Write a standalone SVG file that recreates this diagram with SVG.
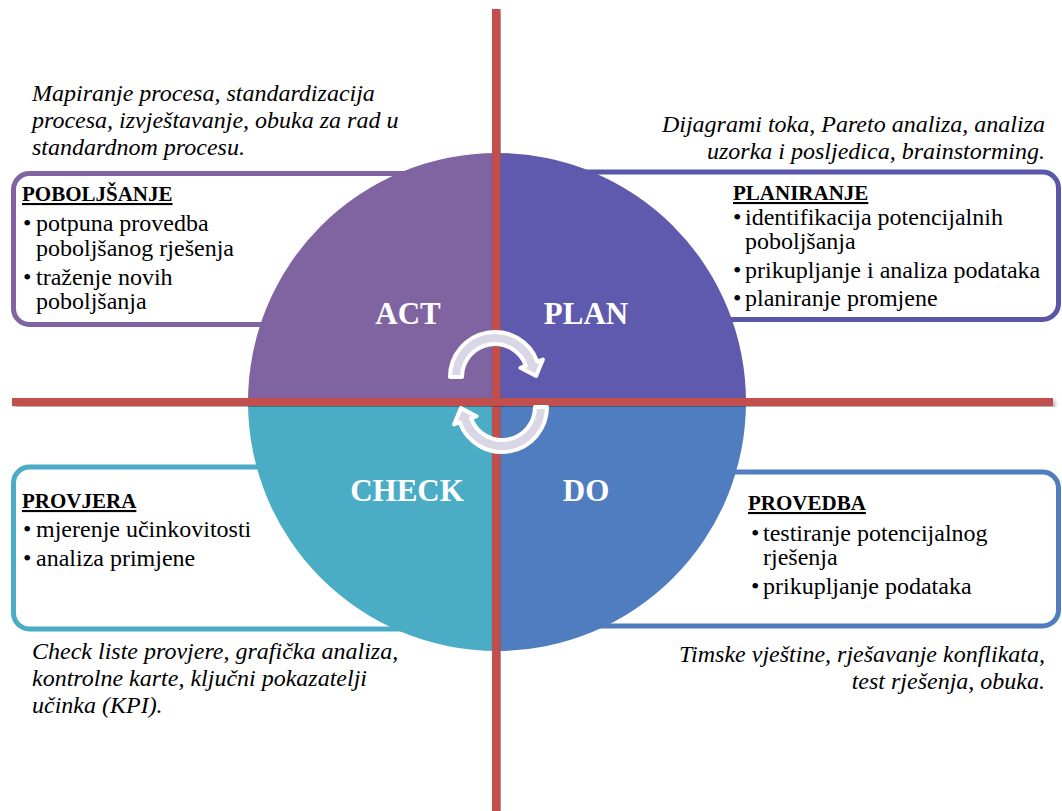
<svg xmlns="http://www.w3.org/2000/svg" width="1062" height="811" viewBox="0 0 1062 811">
<defs>
<filter id="sh" x="-5%" y="-5%" width="110%" height="110%">
<feDropShadow dx="2" dy="3" stdDeviation="2" flood-color="#000" flood-opacity="0.35"/>
</filter>
<style>
.box{fill:#fff;stroke-width:5}
.it{font-family:"Liberation Serif","Times New Roman",serif;font-style:italic;font-size:24px;fill:#000}
.hd{font-family:"Liberation Serif","Times New Roman",serif;font-weight:bold;font-size:21px;fill:#000;text-decoration:underline}
.bl{font-family:"Liberation Serif","Times New Roman",serif;font-size:24px;fill:#000}
.big{font-family:"Liberation Serif","Times New Roman",serif;font-weight:bold;font-size:31px;fill:#fff;text-anchor:middle}
.arw{fill:#d9d6e6;stroke:#fff;stroke-width:4;stroke-linejoin:round}
</style>
</defs>
<rect width="1062" height="811" fill="#fff"/>

<g id="box-act">
<rect class="box" x="13.5" y="173.5" width="470" height="151" rx="16" stroke="#8064a2"/>
</g>
<g id="box-plan">
<rect class="box" x="520" y="172" width="538.5" height="147.5" rx="16" stroke="#5b57a8"/>
</g>
<g id="box-check">
<rect class="box" x="13.5" y="467" width="470" height="162" rx="16" stroke="#4bacc6"/>
</g>
<g id="box-do">
<rect class="box" x="520" y="472" width="538.5" height="154" rx="16" stroke="#4f7dbf"/>
</g>

<g id="circle">
<path d="M497,402 L248,402 A249,249 0 0 1 497,153 Z" fill="#8064a2"/>
<path d="M497,402 L497,153 A249,249 0 0 1 746,402 Z" fill="#5f5aad"/>
<path d="M497,402 L746,402 A249,249 0 0 1 497,651 Z" fill="#4f7dbf"/>
<path d="M497,402 L497,651 A249,249 0 0 1 248,402 Z" fill="#4bacc6"/>
</g>

<g id="connectors">
<rect x="492" y="9" width="8.5" height="802" fill="#c0504d" filter="url(#sh)"/>
<rect x="12" y="398" width="1041" height="8" fill="#c0504d" filter="url(#sh)"/>
</g>

<g id="cycle-arrows">
<path class="arw" d="M450,377 A45,45 0 0 1 537.3,361.6 L542.9,359.6 L536.1,375.9 L520.4,367.8 L526,365.7 A33,33 0 0 0 462,377 Z"/>
<path class="arw" transform="rotate(180 498.5 392)" d="M450,377 A45,45 0 0 1 537.3,361.6 L542.9,359.6 L536.1,375.9 L520.4,367.8 L526,365.7 A33,33 0 0 0 462,377 Z"/>
</g>

<g id="labels">
<text class="big" x="408" y="324">ACT</text>
<text class="big" x="586" y="324">PLAN</text>
<text class="big" x="407" y="501">CHECK</text>
<text class="big" x="586" y="501">DO</text>
</g>

<g id="act-text">
<text class="it" x="32" y="101">Mapiranje procesa, standardizacija</text>
<text class="it" x="32" y="128">procesa, izvještavanje, obuka za rad u</text>
<text class="it" x="32" y="155">standardnom procesu.</text>
<text class="hd" x="22" y="201">POBOLJŠANJE</text>
<text class="bl" x="23" y="231">•</text><text class="bl" x="36" y="231">potpuna provedba</text>
<text class="bl" x="36" y="256">poboljšanog rješenja</text>
<text class="bl" x="23" y="285">•</text><text class="bl" x="36" y="285">traženje novih</text>
<text class="bl" x="36" y="309">poboljšanja</text>
</g>

<g id="plan-text">
<text class="it" x="1045" y="132" text-anchor="end">Dijagrami toka, Pareto analiza, analiza</text>
<text class="it" x="1045" y="159" text-anchor="end">uzorka i posljedica, brainstorming.</text>
<text class="hd" x="733" y="200">PLANIRANJE</text>
<text class="bl" x="733" y="225">•</text><text class="bl" x="745" y="225">identifikacija potencijalnih</text>
<text class="bl" x="745" y="249">poboljšanja</text>
<text class="bl" x="733" y="278">•</text><text class="bl" x="745" y="278">prikupljanje i analiza podataka</text>
<text class="bl" x="733" y="306">•</text><text class="bl" x="745" y="306">planiranje promjene</text>
</g>

<g id="check-text">
<text class="hd" x="22" y="508">PROVJERA</text>
<text class="bl" x="23" y="537">•</text><text class="bl" x="36" y="537">mjerenje učinkovitosti</text>
<text class="bl" x="23" y="566">•</text><text class="bl" x="36" y="566">analiza primjene</text>
<text class="it" x="32" y="659">Check liste provjere, grafička analiza,</text>
<text class="it" x="32" y="686">kontrolne karte, ključni pokazatelji</text>
<text class="it" x="32" y="713">učinka (KPI).</text>
</g>

<g id="do-text">
<text class="hd" x="748" y="510">PROVEDBA</text>
<text class="bl" x="751" y="541">•</text><text class="bl" x="763" y="541">testiranje potencijalnog</text>
<text class="bl" x="763" y="565">rješenja</text>
<text class="bl" x="751" y="594">•</text><text class="bl" x="763" y="594">prikupljanje podataka</text>
<text class="it" x="1045" y="662" text-anchor="end">Timske vještine, rješavanje konflikata,</text>
<text class="it" x="1045" y="689" text-anchor="end">test rješenja, obuka.</text>
</g>
</svg>
